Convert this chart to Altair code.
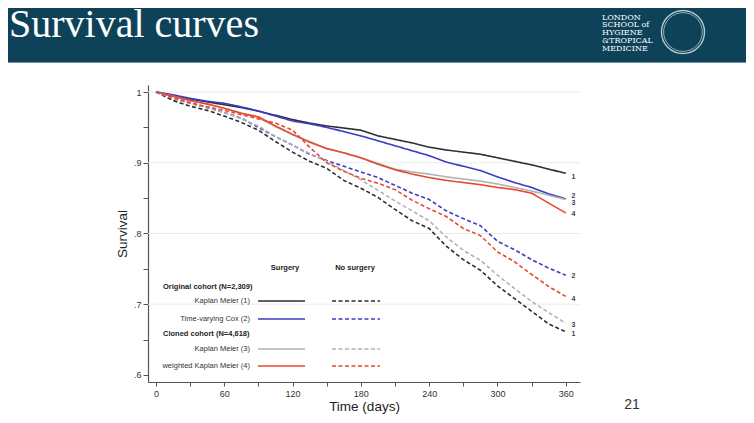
import altair as alt
import pandas as pd

# ---------------- data ----------------
days = list(range(0, 361, 15))

km_orig_surgery = [1.0, .995, .990, .986, .982, .978, .973, .967, .961, .956, .952, .949, .946,
                   .938, .933, .928, .922, .918, .915, .912, .907, .902, .897, .891, .885]
cox_surgery = [1.0, .996, .991, .987, .984, .979, .973, .966, .959, .955, .950, .944, .938,
               .931, .924, .917, .910, .901, .895, .889, .880, .872, .865, .856, .849]
km_clone_surgery = [1.0, .994, .988, .983, .977, .970, .964, .951, .940, .930, .920, .914, .907,
                    .899, .891, .887, .884, .880, .877, .874, .870, .865, .860, .854, .848]
wkm_surgery = [1.0, .994, .988, .983, .977, .970, .965, .952, .940, .929, .920, .914, .907,
               .898, .890, .884, .879, .875, .872, .869, .865, .862, .857, .843, .829]

km_orig_nosurgery = [1.0, .988, .980, .974, .966, .957, .946, .930, .915, .902, .892, .875, .864,
                     .851, .834, .818, .807, .782, .763, .748, .726, .708, .690, .672, .661]
cox_nosurgery = [1.0, .991, .984, .978, .971, .963, .950, .937, .925, .912, .903, .895, .887,
                 .879, .868, .857, .848, .832, .821, .811, .789, .777, .763, .751, .741]
km_clone_nosurgery = [1.0, .991, .984, .978, .971, .962, .952, .937, .925, .913, .902, .889, .876,
                      .861, .846, .832, .818, .795, .776, .762, .741, .722, .704, .688, .673]
wkm_nosurgery = [1.0, .992, .985, .979, .974, .968, .962, .956, .946, .922, .900, .888, .878,
                 .871, .862, .847, .835, .824, .807, .797, .774, .760, .742, .725, .711]

method_keys = ["km1", "cox2", "km3", "wkm4"]
method_labels = ["Kaplan Meier (1)", "Time-varying Cox (2)", "Kaplan Meier (3)", "weighted Kaplan Meier (4)"]
method_colors = ["#2e2e2e", "#3b3bc6", "#b3b3b3", "#e8482f"]
groups = ["Surgery", "No surgery"]
cohort_titles = ["Original cohort (N=2,309)", "Cloned cohort (N=4,618)"]

end_label_text = ["1", "2", "3", "4", "2", "4", "3", "1"]
end_label_value = [.880, .8535, .8425, .828, .740, .708, .671, .658]
end_label_day = [365] * 8

x_ticks = list(range(0, 361, 30))
y_ticks = [0.6, 0.65, 0.7, 0.75, 0.8, 0.85, 0.9, 0.95, 1.0]
grid_values = [0.7, 0.8, 0.9, 1.0]

logo_lines = ["LONDON", "SCHOOL of", "HYGIENE", "&TROPICAL", "MEDICINE"]

# ---------------- build tables ----------------
series = {
    ("km1", "Surgery"): km_orig_surgery,
    ("cox2", "Surgery"): cox_surgery,
    ("km3", "Surgery"): km_clone_surgery,
    ("wkm4", "Surgery"): wkm_surgery,
    ("km1", "No surgery"): km_orig_nosurgery,
    ("cox2", "No surgery"): cox_nosurgery,
    ("km3", "No surgery"): km_clone_nosurgery,
    ("wkm4", "No surgery"): wkm_nosurgery,
}
rows = []
for (k, g), vals in series.items():
    for d, v in zip(days, vals):
        rows.append({"day": d, "surv": v, "method": k, "group": g, "series": k + g})
curves = pd.DataFrame(rows)

ends = pd.DataFrame({"day": end_label_day, "surv": end_label_value, "txt": end_label_text})
grid_df = pd.DataFrame({"surv": grid_values})

FONT = "Liberation Sans"
xscale = alt.Scale(domain=[-7, 372.5], nice=False, zero=False)
yscale = alt.Scale(domain=[0.590, 1.0099], nice=False, zero=False)
cscale = alt.Scale(domain=method_keys, range=method_colors)
dscale = alt.Scale(domain=groups, range=[[1, 0], [4, 2.5]])

x_axis = alt.Axis(values=x_ticks,
                  labelExpr="datum.value % 60 == 0 ? datum.label : ''",
                  grid=False, tickSize=4, labelPadding=3, labelFontSize=9,
                  labelFont=FONT, labelColor="#333333", titleFont=FONT,
                  titleFontSize=13.5, titleFontWeight="normal", titleColor="#222222",
                  titlePadding=1, domainColor="#555555", tickColor="#555555",
                  domainWidth=1.2)
y_axis = alt.Axis(values=y_ticks,
                  labelExpr="abs(datum.value*10 - round(datum.value*10)) < 0.001 ? (datum.value == 1 ? '1' : replace(format(datum.value, '.1f'), '0.', '.')) : ''",
                  grid=False, tickSize=5, labelPadding=2, labelFontSize=9,
                  labelFont=FONT, labelColor="#333333", titleFont=FONT,
                  titleFontSize=13.5, titleFontWeight="normal", titleColor="#222222",
                  titlePadding=4, domainColor="#555555", tickColor="#555555",
                  domainWidth=1.2)

one = pd.DataFrame({"a": [0]})

# header band
header = alt.Chart(one).mark_rect(color="#0d4258").encode(
    x=alt.value(-140), x2=alt.value(598), y=alt.value(-77), y2=alt.value(-23))
header_line = alt.Chart(one).mark_rule(color="#6f93a0", strokeWidth=1).encode(
    x=alt.value(-140), x2=alt.value(598), y=alt.value(-22.5))
title = alt.Chart(one).mark_text(
    text="Survival curves", font="Liberation Serif", fontSize=40, color="white",
    align="left", baseline="alphabetic").encode(x=alt.value(-139), y=alt.value(-48.5))

logo_df = pd.DataFrame({"t": logo_lines, "py": [-65.5 + 7.8 * i for i in range(len(logo_lines))]})
logo_text = alt.Chart(logo_df).mark_text(
    font="DejaVu Serif", fontSize=8, color="white", align="left",
    baseline="alphabetic").encode(
    x=alt.value(454), y=alt.Y("py:Q", scale=None, axis=None), text="t:N")
logo_circle = alt.Chart(one).mark_point(
    shape="circle", filled=False, stroke="white", strokeWidth=1.4, size=1850).encode(
    x=alt.value(535), y=alt.value(-53))
logo_circle2 = alt.Chart(one).mark_point(
    shape="circle", filled=False, stroke="white", strokeWidth=0.8, size=1500).encode(
    x=alt.value(535), y=alt.value(-53))

page_no = alt.Chart(one).mark_text(
    text="21", font=FONT, fontSize=14, color="#333333", align="center", baseline="middle"
).encode(x=alt.value(484), y=alt.value(320))

# grid
grid = alt.Chart(grid_df).mark_rule(color="#ebebeb", strokeWidth=1).encode(
    y=alt.Y("surv:Q", scale=yscale, axis=y_axis, title="Survival"))

# curves
lines = alt.Chart(curves).mark_line(strokeWidth=1.6).encode(
    x=alt.X("day:Q", scale=xscale, title="Time (days)", axis=x_axis),
    y=alt.Y("surv:Q", scale=yscale, title="Survival", axis=y_axis),
    color=alt.Color("method:N", scale=cscale, legend=None),
    strokeDash=alt.StrokeDash("group:N", scale=dscale, legend=None),
    detail="series:N",
    order=alt.Order("day:Q"),
)

end_labels = alt.Chart(ends).mark_text(
    font=FONT, fontSize=7, fontWeight="bold", color="#444444", align="left",
    baseline="middle").encode(
    x=alt.X("day:Q", scale=xscale, title="Time (days)", axis=x_axis),
    y=alt.Y("surv:Q", scale=yscale, title="Survival", axis=y_axis),
    text="txt:N")

# ---------------- in-plot legend (pixel layout) ----------------
row_y = [216, 234, 264, 281]
head_df = pd.DataFrame({
    "t": groups + cohort_titles,
    "px": [137, 207, 15, 15],
    "py": [183, 183, 202, 249],
    "al": ["center", "center", "left", "left"],
})
head_c = alt.Chart(head_df[head_df.al == "center"]).mark_text(
    font=FONT, fontSize=7.5, fontWeight="bold", color="#222222", align="center",
    baseline="middle").encode(
    x=alt.X("px:Q", scale=None, axis=None), y=alt.Y("py:Q", scale=None, axis=None), text="t:N")
head_l = alt.Chart(head_df[head_df.al == "left"]).mark_text(
    font=FONT, fontSize=7.5, fontWeight="bold", color="#222222", align="left",
    baseline="middle").encode(
    x=alt.X("px:Q", scale=None, axis=None), y=alt.Y("py:Q", scale=None, axis=None), text="t:N")

lab_df = pd.DataFrame({"t": method_labels, "px": [102] * 4, "py": row_y})
lab = alt.Chart(lab_df).mark_text(
    font=FONT, fontSize=7.5, color="#333333", align="right", baseline="middle").encode(
    x=alt.X("px:Q", scale=None, axis=None), y=alt.Y("py:Q", scale=None, axis=None), text="t:N")

leg_rows = []
for k, yy in zip(method_keys, row_y):
    leg_rows.append({"method": k, "group": "Surgery", "x1": 110, "x2": 157, "py": yy})
    leg_rows.append({"method": k, "group": "No surgery", "x1": 184, "x2": 232, "py": yy})
leg_df = pd.DataFrame(leg_rows)
leg_lines = alt.Chart(leg_df).mark_rule(strokeWidth=1.6).encode(
    x=alt.X("x1:Q", scale=None, axis=None), x2="x2:Q",
    y=alt.Y("py:Q", scale=None, axis=None),
    color=alt.Color("method:N", scale=cscale, legend=None),
    strokeDash=alt.StrokeDash("group:N", scale=dscale, legend=None))

chart = alt.layer(
    header, header_line, title, logo_text, logo_circle, logo_circle2, page_no,
    grid, lines, end_labels, head_c, head_l, lab, leg_lines
).properties(
    width=432, height=297,
    padding={"left": 140, "top": 77, "right": 166, "bottom": 33},
    autosize=alt.AutoSizeParams(type="none"),
    background="white",
).configure_view(stroke=None)

chart.save("out.html", embed_options={"renderer": "svg", "actions": False})
